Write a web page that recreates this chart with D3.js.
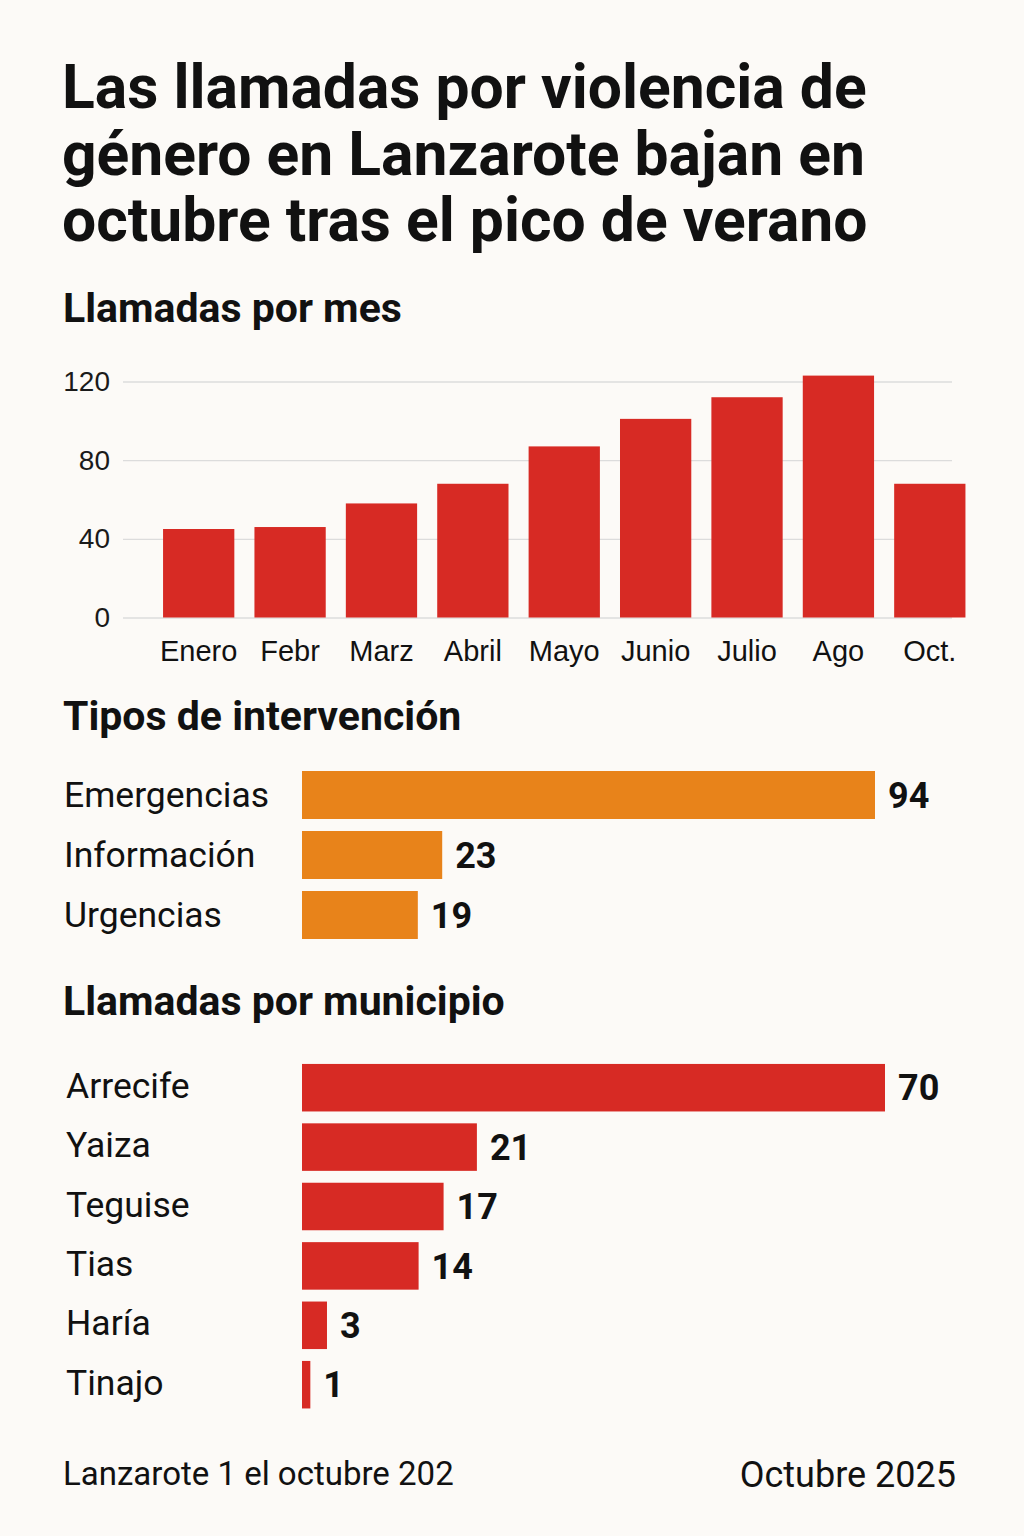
<!DOCTYPE html>
<html lang="es">
<head>
<meta charset="utf-8">
<title>Llamadas por violencia de género en Lanzarote</title>
<script src="https://cdn.jsdelivr.net/npm/d3@7"></script>
<style>
    html, body { margin: 0; padding: 0; background: #fcfaf7; }
    svg { display: block; font-family: Roboto, "Noto Sans", sans-serif; }
    .title { font-size: 60.6px; font-weight: 700; fill: #111; }
    .section { font-size: 41px; font-weight: 700; fill: #111; }
    .cat-label { font-size: 35.5px; fill: #111; }
    .val-label { font-size: 36px; font-weight: 700; fill: #111; }
    .footer { fill: #111; }
    .y-axis text { font-size: 28px; fill: #1a1a1a; }
    .y-axis line { stroke: #dcdcdc; stroke-width: 1.3; }
    .x-axis text { font-size: 29px; fill: #111; }
</style>
</head>
<body>
<div id="chart"></div>
<script>
// Datos
const months = ['Enero', 'Febr', 'Marz', 'Abril', 'Mayo', 'Junio', 'Julio', 'Ago', 'Oct.'];
const monthCalls = [45, 46, 58, 68, 87, 101, 112, 123, 68];
const yTicks = [0, 40, 80, 120];

const interventionTypes = ['Emergencias', 'Información', 'Urgencias'];
const interventionCalls = [94, 23, 19];

const municipalities = ['Arrecife', 'Yaiza', 'Teguise', 'Tias', 'Haría', 'Tinajo'];
const municipalityCalls = [70, 21, 17, 14, 3, 1];

const titleLines = [
    'Las llamadas por violencia de',
    'género en Lanzarote bajan en',
    'octubre tras el pico de verano'
];

const RED = '#d72a24';
const ORANGE = '#e8831a';

const width = 1024;
const height = 1536;

const svg = d3.select('#chart')
    .append('svg')
    .attr('width', width)
    .attr('height', height)
    .attr('viewBox', `0 0 ${width} ${height}`);

svg.append('rect')
    .attr('width', width)
    .attr('height', height)
    .attr('fill', '#fcfaf7');

// Titulo
svg.append('g')
    .selectAll('text')
    .data(titleLines)
    .join('text')
    .attr('class', 'title')
    .attr('x', 62)
    .attr('y', (d, i) => 108 + i * 66.5)
    .text(d => d);

// ---- Llamadas por mes ----
svg.append('text')
    .attr('class', 'section')
    .attr('x', 63)
    .attr('y', 322)
    .text('Llamadas por mes');

const x = d3.scaleBand()
    .domain(months)
    .range([153, 975.5])
    .paddingInner(0.22)
    .paddingOuter(0.11);

const y = d3.scaleLinear()
    .domain([0, 120])
    .range([617.5, 381.5]);

// Rejilla y etiquetas del eje Y
svg.append('g')
    .attr('class', 'y-axis')
    .attr('transform', 'translate(123,0)')
    .call(d3.axisLeft(y)
        .tickValues(yTicks)
        .tickSize(-(952 - 123))
        .tickPadding(13))
    .call(g => g.select('.domain').remove())
    .call(g => g.selectAll('text').attr('font-family', null));

svg.append('g')
    .selectAll('rect')
    .data(monthCalls)
    .join('rect')
    .attr('x', (d, i) => x(months[i]))
    .attr('y', d => y(d))
    .attr('width', x.bandwidth())
    .attr('height', d => y(0) - y(d))
    .attr('fill', RED);

svg.append('g')
    .attr('class', 'x-axis')
    .attr('transform', `translate(0,${y(0)})`)
    .call(d3.axisBottom(x).tickSize(0).tickPadding(23))
    .call(g => g.select('.domain').remove())
    .call(g => g.selectAll('text').attr('font-family', null));

// ---- Barras horizontales ----
function horizontalBars(labels, values, opts) {
    const yb = d3.scaleBand()
        .domain(labels)
        .range(opts.yRange)
        .paddingInner(0.2)
        .paddingOuter(0.1);

    const xb = d3.scaleLinear()
        .domain([0, d3.max(values)])
        .range([302, opts.xMax]);

    const g = svg.append('g');

    g.selectAll('.cat-label')
        .data(labels)
        .join('text')
        .attr('class', 'cat-label')
        .attr('x', opts.labelX)
        .attr('y', d => yb(d) + yb.bandwidth() / 2)
        .attr('dy', opts.labelDy)
        .text(d => d);

    g.selectAll('rect')
        .data(values)
        .join('rect')
        .attr('x', xb(0))
        .attr('y', (d, i) => yb(labels[i]))
        .attr('width', d => xb(d) - xb(0))
        .attr('height', yb.bandwidth())
        .attr('fill', opts.color);

    g.selectAll('.val-label')
        .data(values)
        .join('text')
        .attr('class', 'val-label')
        .attr('x', d => xb(d) + 13)
        .attr('y', (d, i) => yb(labels[i]) + yb.bandwidth() / 2)
        .attr('dy', '0.35em')
        .text(d => d);
}

svg.append('text')
    .attr('class', 'section')
    .attr('x', 63)
    .attr('y', 730)
    .text('Tipos de intervención');

horizontalBars(interventionTypes, interventionCalls, {
    yRange: [765, 945],
    xMax: 875,
    color: ORANGE,
    labelX: 64,
    labelDy: 12
});

svg.append('text')
    .attr('class', 'section')
    .attr('x', 63)
    .attr('y', 1015)
    .text('Llamadas por municipio');

horizontalBars(municipalities, municipalityCalls, {
    yRange: [1058, 1414.4],
    xMax: 885,
    color: RED,
    labelX: 66,
    labelDy: 10
});

// ---- Pie ----
svg.append('text')
    .attr('class', 'footer')
    .attr('x', 63)
    .attr('y', 1485)
    .style('font-size', '33px')
    .text('Lanzarote 1 el octubre 202');

svg.append('text')
    .attr('class', 'footer')
    .attr('x', 956)
    .attr('y', 1487)
    .attr('text-anchor', 'end')
    .style('font-size', '36px')
    .text('Octubre 2025');
</script>
</body>
</html>
